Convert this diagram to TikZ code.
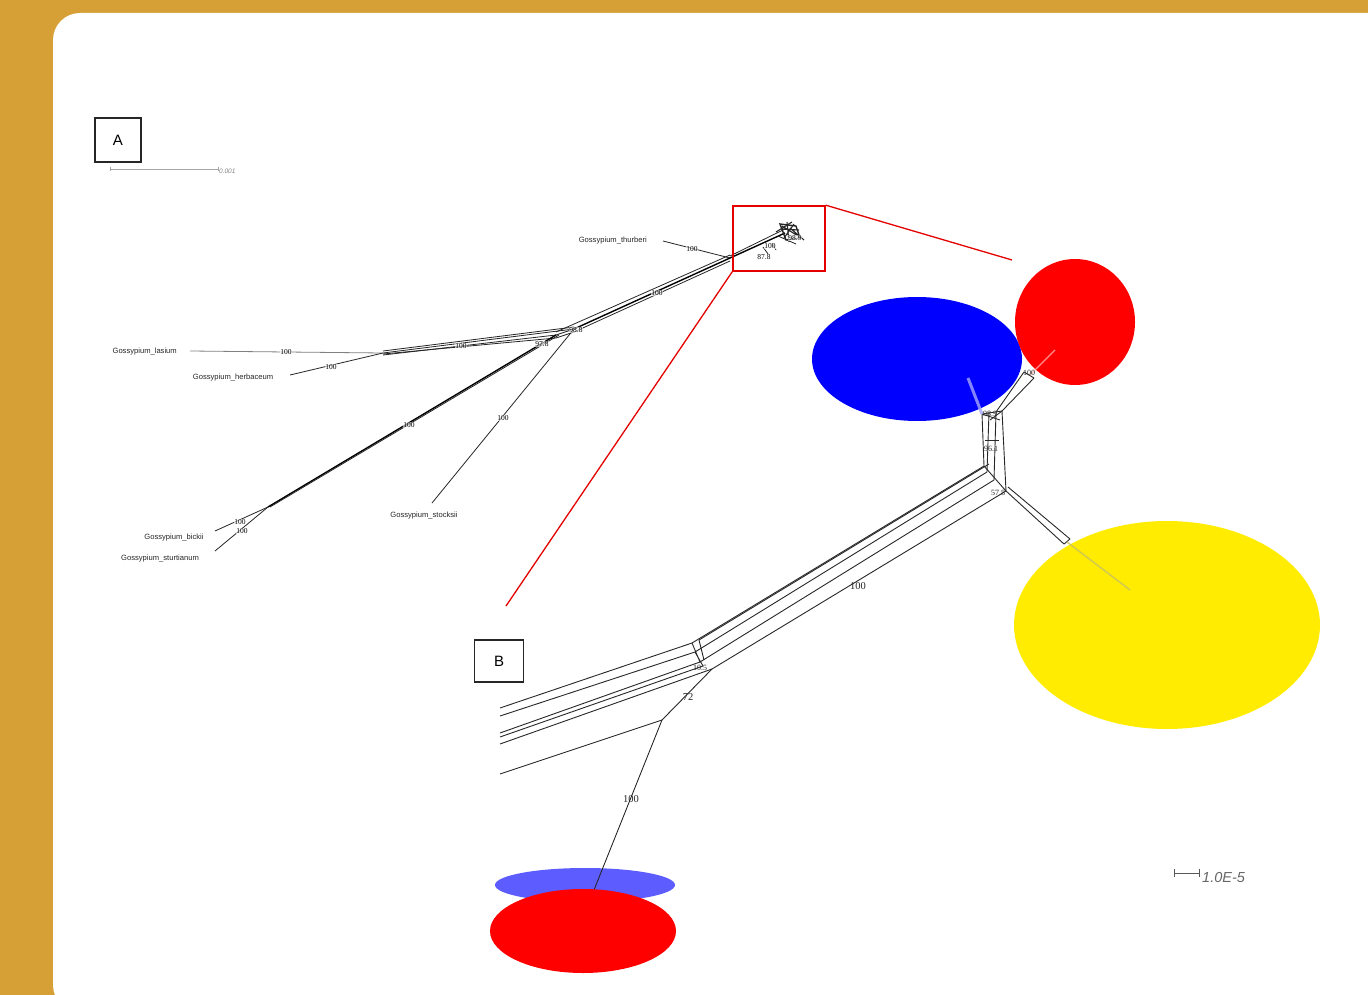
\documentclass[tikz,border=0pt]{standalone}
\usepackage{fontspec}
\setmainfont{Liberation Sans}
\newfontfamily\numfont{Liberation Serif}
\definecolor{gold}{RGB}{214,160,54}
\definecolor{netgray}{RGB}{40,40,40}
\definecolor{lblue}{RGB}{92,92,255}
\definecolor{yel}{RGB}{255,236,0}
\begin{document}
\begin{tikzpicture}[x=1pt,y=-1pt,
  taxon/.style={font=\fontsize{7.6}{8}\selectfont, inner sep=0pt, text=black!85},
  blab/.style={font=\numfont\fontsize{7.5}{8}\selectfont, inner sep=0pt, fill=white, fill opacity=0.6, text opacity=1},
  blabB/.style={font=\numfont\fontsize{10.5}{11}\selectfont, inner sep=0pt, text=black!85},
  edgeA/.style={draw=black!85, line width=0.8pt},
  thickA/.style={draw=black, line width=1.4pt},
  edgeB/.style={draw=netgray, line width=0.9pt},
  faint/.style={draw=white!70!gray, line width=1.2pt, opacity=0.8},
  panelbox/.style={draw=black!85, line width=1.8pt},
  zoomline/.style={draw=red!90!black, line width=1.6pt}]
\useasboundingbox (0,0) rectangle (1368,995);
\fill[gold] (0,0) rectangle (1368,995);
\fill[white, rounded corners=27pt] (53,13) rectangle (1420,1012);

% ---------------- Panel A ----------------
\node[panelbox, minimum width=46pt, minimum height=44pt, inner sep=0pt, font=\fontsize{15}{16}\selectfont] (boxA) at (118,140) {A};
\coordinate (sbA1) at (110,169);
\coordinate (sbA2) at (218,169);
\draw[gray!70, line width=0.8pt] (sbA1) -- (sbA2);
\draw[gray!70, line width=0.8pt] ([yshift=-2pt]sbA1) -- ([yshift=2pt]sbA1) ([yshift=-2pt]sbA2) -- ([yshift=2pt]sbA2);
\node[font=\itshape\fontsize{6.5}{7}\selectfont, text=gray, anchor=west, inner sep=0pt] (sbAlab) at (219,171) {0.001};

% tree vertices
\coordinate (hub) at (730,258);
\coordinate (thtip) at (663,241);
\coordinate (n1) at (574,329);
\coordinate (n2) at (556,335);
\coordinate (n3) at (383,353);
\coordinate (latip) at (190,351);
\coordinate (hetip) at (290,375);
\coordinate (n4) at (268,507);
\coordinate (bitip) at (215,531);
\coordinate (sttip) at (215,551);
\coordinate (sttip2) at (432,503);
\coordinate (cl) at (785,233);

% thurberi
\draw[edgeA] (thtip) -- (hub);
% trunk hub -> n1 (parallel strands)
\draw[thickA] (hub) -- (n1);
\draw[edgeA] ([yshift=-3pt]hub) -- ([yshift=-3pt]n1);
\draw[edgeA] ([yshift=3pt]hub) -- ([yshift=3pt]n2);
% hub -> cluster
\draw[thickA] (hub) -- (cl);
\draw[edgeA] ([yshift=2pt]hub) -- ([yshift=4pt]cl);
\draw[edgeA] (763,247) -- (768,254) (772,243) -- (776,250) (778,236) -- (796,244);
\draw[edgeA, line width=1.4pt] (780,224) -- (796,226) -- (800,238) -- (786,240) -- cycle;
\draw[edgeA, line width=1.1pt] (782,226) -- (798,236) (784,238) -- (794,224) (790,228) -- (804,240) (776,232) -- (792,222) (781,229) -- (799,230) (787,222) -- (789,242);
% n2/n1 -> n3 (parallelogram strands)
\draw[edgeA] (n1) -- (n3);
\draw[edgeA] (n2) -- ([yshift=-2pt]n3);
\draw[edgeA] ([yshift=2pt]n1) -- ([yshift=2pt]n3);
\draw[edgeA] ([yshift=-3pt]n1) -- ([yshift=-3pt]n2) -- ([yshift=-1pt]n3);
\draw[edgeA] (n1) -- (n2);
% lasium, herbaceum
\draw[edgeA, gray] (n3) -- (latip);
\draw[edgeA] (n3) -- (hetip);
% bickii/sturtianum trunk
\draw[thickA] (n2) -- (n4);
\draw[edgeA] ([xshift=3pt]n2) -- ([xshift=2pt]n4);
\draw[edgeA] (n4) -- (bitip);
\draw[edgeA] (n4) -- (sttip);
% stocksii
\draw[edgeA] (n1) -- (sttip2);

% A labels
\node[taxon, anchor=east] (thlab) at (647,241) {Gossypium\_thurberi};
\node[taxon, anchor=east] (lalab) at (177,352) {Gossypium\_lasium};
\node[taxon] (helab) at (233,378) {Gossypium\_herbaceum};
\node[taxon] (bilab) at (174,538) {Gossypium\_bickii};
\node[taxon] (stlab) at (160,559) {Gossypium\_sturtianum};
\node[taxon] (sklab) at (424,516) {Gossypium\_stocksii};
\node[blab] (l1) at (692,249) {100};
\node[blab] (l2) at (657,293) {100};
\node[blab] (l3) at (461,346) {100};
\node[blab] (l4) at (286,352) {100};
\node[blab] (l5) at (331,367) {100};
\node[blab] (l6) at (409,425) {100};
\node[blab] (l7) at (503,418) {100};
\node[blab] (l8) at (240,522) {100};
\node[blab] (l9) at (242,531) {100};
\node[blab] (l10) at (542,344) {97.8};
\node[blab] (l11) at (576,330) {98.8};
\node[blab] (l12) at (764,257) {87.8};
\node[blab] (l13) at (770,246) {100};
\node[blab] (l14) at (795,238) {98.9};

% zoom box and lines
\node[zoomline, minimum width=92pt, minimum height=65pt, inner sep=0pt] (zbox) at (779,238.5) {};
\coordinate (zend1) at (1012,260);
\coordinate (zend2) at (506,606);
\draw[zoomline, line width=1.3pt] (zbox.north east) -- (zend1);
\draw[zoomline, line width=1.3pt] (zbox.south west) -- (zend2);

% ---------------- Panel B ----------------
\node[panelbox, minimum width=49pt, minimum height=42pt, inner sep=0pt, font=\fontsize{15}{16}\selectfont] (boxB) at (499,661) {B};

% network vertices
\coordinate (a1) at (500,708);
\coordinate (a2) at (500,716);
\coordinate (a3) at (500,733);
\coordinate (a4) at (500,737);
\coordinate (a5) at (500,744);
\coordinate (a6) at (500,774);
\coordinate (b1) at (692,643);
\coordinate (b2) at (695,652);
\coordinate (b3) at (700,662);
\coordinate (b4) at (703,666);
\coordinate (b5) at (712,669);
\coordinate (c) at (662,720);
\coordinate (rtip) at (592,895);
\coordinate (t1) at (984,466);
\coordinate (t2) at (987,472);
\coordinate (t3) at (994,480);
\coordinate (t4) at (1006,491);
\coordinate (u1) at (982,414);
\coordinate (u2) at (989,412);
\coordinate (u3) at (996,412);
\coordinate (u4) at (1002,411);
\coordinate (r1) at (1024,372);
\coordinate (r2) at (1034,378);
\coordinate (rr) at (1055,350);
\coordinate (bb) at (968,378);
\coordinate (y1) at (1064,544);
\coordinate (y2) at (1070,539);
\coordinate (yy) at (1130,590);

% ellipses (lower pair drawn around the branch)
\fill[blue] (917,359) ellipse (105 and 62);
\fill[red] (1075,322) ellipse (60 and 63);
\fill[yel] (1167,625) ellipse (153 and 104);
\fill[lblue] (585,885) ellipse (90 and 17);
\draw[edgeB] (c) -- (rtip);
\fill[red] (583,931) ellipse (93 and 42);

\draw[edgeB] (a1) -- (b1);
\draw[edgeB] (a2) -- (b2);
\draw[edgeB] (a3) -- (b3);
\draw[edgeB] (a4) -- (b4);
\draw[edgeB] (a5) -- (b5);
\draw[edgeB] (a6) -- (c);
\draw[edgeB] (c) -- (b5);
\draw[edgeB] (b1) -- (b3) (b2) -- (b4);
\draw[edgeB] (699,640) -- (704,660);
% long band
\draw[edgeB] (b1) -- (t1);
\draw[edgeB] (699,640) -- (989,464);
\draw[edgeB] (b2) -- (t2);
\draw[edgeB] (b3) -- (t3);
\draw[edgeB] (b5) -- (t4);
% ladder
\draw[edgeB] (t1) -- (u1);
\draw[edgeB] (t2) -- (u2);
\draw[edgeB] (t3) -- (u3);
\draw[edgeB] (t4) -- (u4);
\draw[edgeB] (t1) -- (t4) (u1) -- (u4);
\draw[edgeB] (985,440) -- (999,440);
\draw[edgeB] (u1) -- (1000,420) (u4) -- (990,420);
% to red
\draw[edgeB] (u3) -- (r1);
\draw[edgeB] (u4) -- (r2);
\draw[edgeB] (r1) -- (r2);
\draw[faint, draw=red!30!white] (1030,375) -- (rr);
% to blue
\draw[faint, draw=blue!35!white, line width=3pt] (u1) -- (bb);
% to yellow
\draw[edgeB] (t4) -- (y1);
\draw[edgeB] (1008,487) -- (y2);
\draw[edgeB] (y1) -- (y2);
\draw[faint, draw=yellow!50!gray, line width=1.5pt] (1067,542) -- (yy);

% B labels
\node[blabB] (m1) at (858,586) {100};
\node[blabB] (m2) at (688,697) {72};
\node[blabB] (m3) at (631,799) {100};
\node[blabB, font=\numfont\fontsize{8}{9}\selectfont] (m4) at (700,668) {10.5};
\node[blabB, font=\numfont\fontsize{8}{9}\selectfont] (m5) at (991,449) {96.1};
\node[blabB, font=\numfont\fontsize{8}{9}\selectfont] (m6) at (998,493) {57.8};
\node[blabB, font=\numfont\fontsize{8}{9}\selectfont] (m7) at (1029,373) {100};
\node[blabB, font=\numfont\fontsize{8}{9}\selectfont] (m8) at (990,414) {98.9};

% scale bar B
\coordinate (sb1) at (1174,873);
\coordinate (sb2) at (1199,873);
\draw[gray!70!black, line width=1pt] (sb1) -- (sb2) ([yshift=-4pt]sb1) -- ([yshift=4pt]sb1) ([yshift=-4pt]sb2) -- ([yshift=4pt]sb2);
\node[font=\itshape\fontsize{14.5}{15}\selectfont, text=gray!80!black, anchor=west, inner sep=0pt] (sblab) at (1202,878) {1.0E-5};
\end{tikzpicture}
\end{document}
